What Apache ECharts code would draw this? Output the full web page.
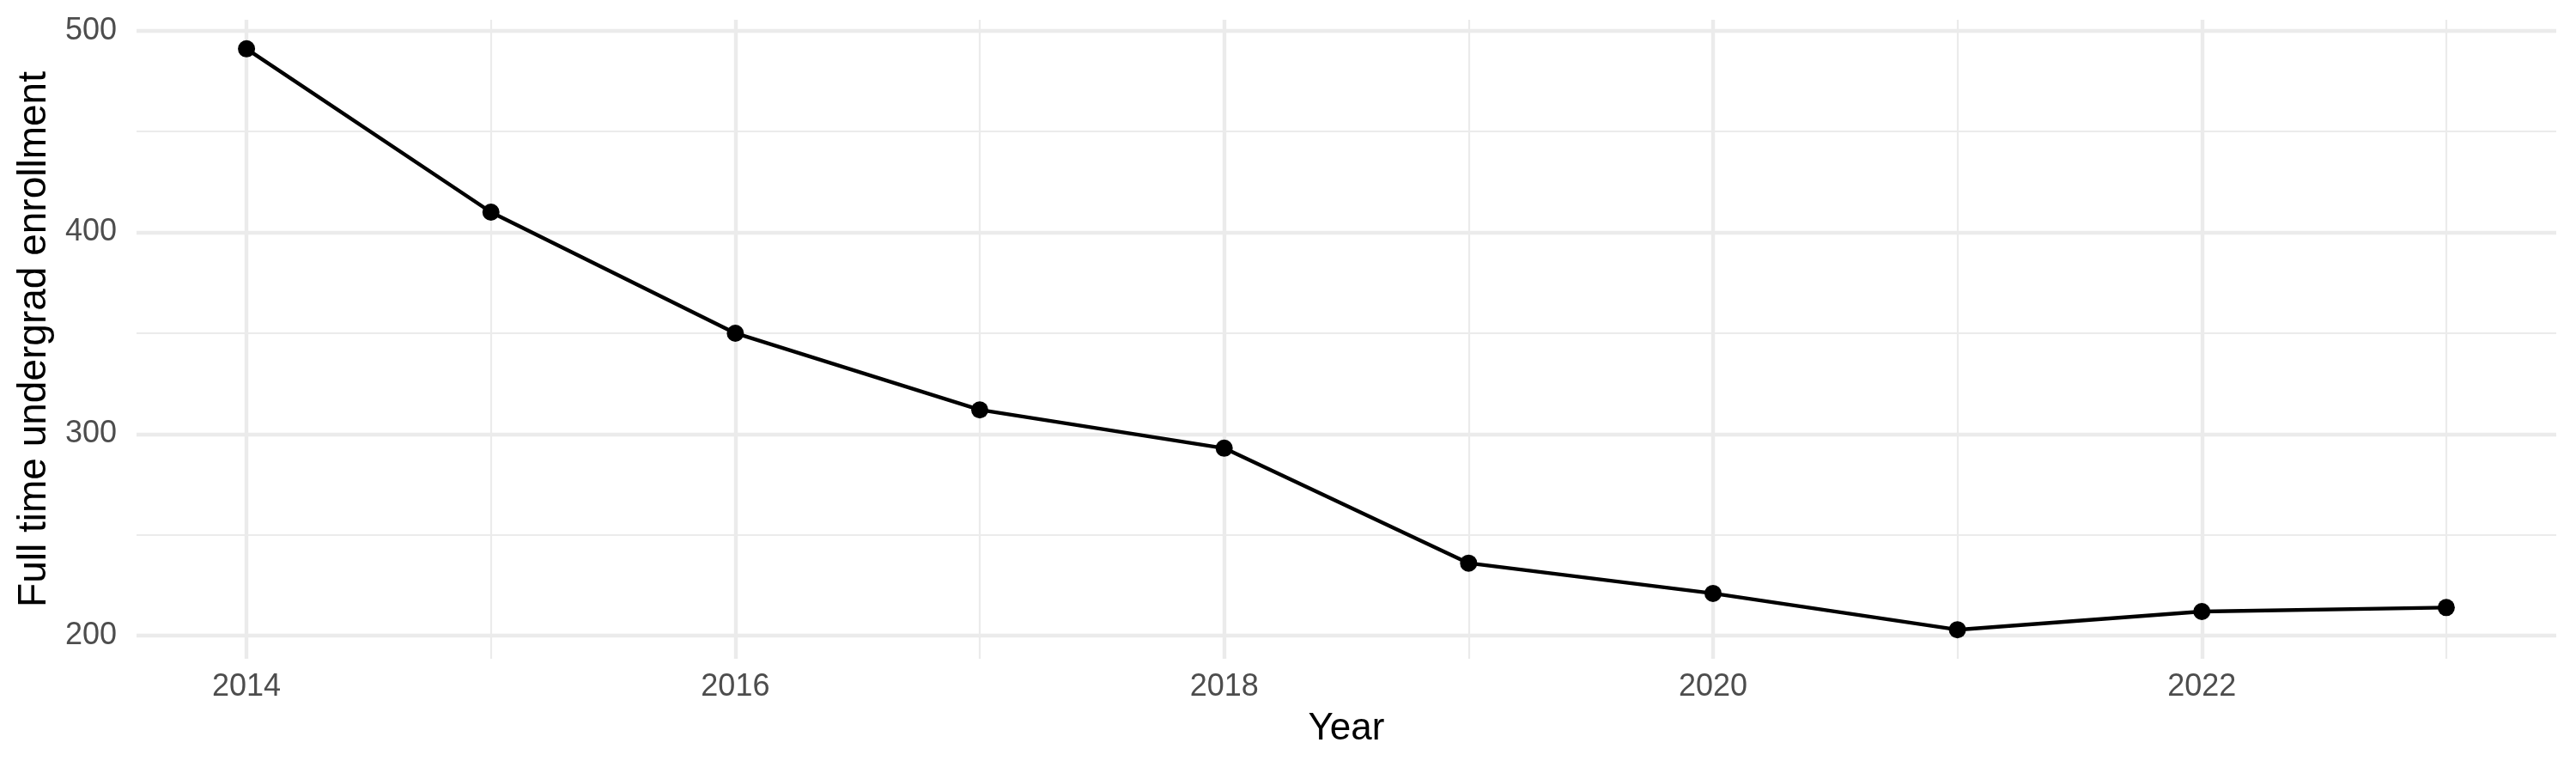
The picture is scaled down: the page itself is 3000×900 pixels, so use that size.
<!DOCTYPE html>
<html lang="en">
<head>
    <meta charset="UTF-8">
    <title>Enrollment</title>
    <script src="https://cdn.jsdelivr.net/npm/echarts@6/dist/echarts.min.js"></script>
    <style>
        html, body { margin: 0; padding: 0; background: #fff; }
        #main { width: 3000px; height: 900px; }
    </style>
</head>
<body>
<div id="main"></div>
<script>
    // data
    var years = [2014, 2015, 2016, 2017, 2018, 2019, 2020, 2021, 2022, 2023];
    var enrollment = [491, 410, 350, 312, 293, 236, 221, 203, 212, 214];

    // breaks, ggplot style
    var xMajor = [2014, 2016, 2018, 2020, 2022];
    var xMinor = [2015, 2017, 2019, 2021, 2023];
    var yMajor = [200, 300, 400, 500];
    var yMinor = [250, 350, 450];

    var font = 'Liberation Sans';
    var gridColor = '#EBEBEB';

    // 5% padding like ggplot
    var xPad = (years[years.length - 1] - years[0]) * 0.05;
    var yLo = Math.min.apply(null, enrollment), yHi = Math.max.apply(null, enrollment);
    var yPad = (yHi - yLo) * 0.05;

    var points = years.map(function (y, i) { return [y, enrollment[i]]; });

    var myChart = echarts.init(document.getElementById('main'));

    var option = {
        backgroundColor: '#fff',
        animation: false,
        grid: { left: 159, top: 23, width: 2818, height: 744 },
        xAxis: [{
            type: 'value',
            min: years[0] - xPad,
            max: years[years.length - 1] + xPad,
            name: 'Year',
            nameLocation: 'middle',
            nameGap: 60,
            nameTextStyle: { fontFamily: font, fontSize: 44, color: '#000' },
            axisLine: { show: false },
            axisTick: { show: false, customValues: xMajor },
            axisLabel: {
                customValues: xMajor,
                fontFamily: font, fontSize: 36, color: '#4D4D4D', margin: 15,
                formatter: function (v) { return String(v); }
            },
            splitLine: { show: true, lineStyle: { color: gridColor, width: 4.4 } }
        }, {
            type: 'value',
            min: years[0] - xPad,
            max: years[years.length - 1] + xPad,
            axisLine: { show: false },
            axisTick: { show: false, customValues: xMinor },
            axisLabel: { show: false },
            splitLine: { show: true, lineStyle: { color: gridColor, width: 2.2 } }
        }],
        yAxis: [{
            type: 'value',
            min: yLo - yPad,
            max: yHi + yPad,
            name: 'Full time undergrad enrollment',
            nameLocation: 'middle',
            nameGap: 96,
            nameRotate: 90,
            nameTextStyle: { fontFamily: font, fontSize: 46, color: '#000' },
            axisLine: { show: false },
            axisTick: { show: false, customValues: yMajor },
            axisLabel: {
                customValues: yMajor,
                fontFamily: font, fontSize: 36, color: '#4D4D4D', margin: 23,
                formatter: function (v) { return String(v); }
            },
            splitLine: { show: true, lineStyle: { color: gridColor, width: 4.4 } }
        }, {
            type: 'value',
            min: yLo - yPad,
            max: yHi + yPad,
            axisLine: { show: false },
            axisTick: { show: false, customValues: yMinor },
            axisLabel: { show: false },
            splitLine: { show: true, lineStyle: { color: gridColor, width: 2.2 } }
        }],
        series: [{
            type: 'line',
            data: points,
            xAxisIndex: 0,
            yAxisIndex: 0,
            symbol: 'circle',
            symbolSize: 20,
            showAllSymbol: true,
            lineStyle: { color: '#000', width: 4.4 },
            itemStyle: { color: '#000' },
            z: 5
        }]
    };
    myChart.setOption(option);
</script>
</body>
</html>
